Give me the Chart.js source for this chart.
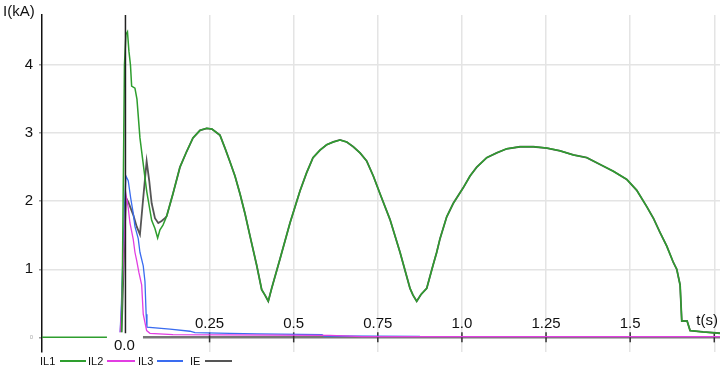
<!DOCTYPE html>
<html>
<head>
<meta charset="utf-8">
<script src="https://cdn.jsdelivr.net/npm/chart.js@4.4.1/dist/chart.umd.min.js"></script>
<style>
  html, body { margin: 0; padding: 0; background: #fff; }
  #wrap { position: relative; width: 720px; height: 372px; overflow: hidden; font-family: 'Liberation Sans', Arial, sans-serif; }
  canvas { position: absolute; left: 0; top: 0; }
  .lg { position: absolute; top: 354px; font-size: 11px; color: #111; line-height: 14px; }
  .ln { position: absolute; top: 360px; height: 1.5px; }
</style>
</head>
<body>
<div id="wrap">
  <canvas id="c" width="720" height="372"></canvas>
  <span class="lg" style="left:40px">IL1</span><span class="ln" style="left:60px;width:26px;background:#2e9e2e"></span>
  <span class="lg" style="left:88px">IL2</span><span class="ln" style="left:107px;width:28px;background:#e23ee2"></span>
  <span class="lg" style="left:138px">IL3</span><span class="ln" style="left:157px;width:26px;background:#3a6cf0"></span>
  <span class="lg" style="left:190px">IE</span><span class="ln" style="left:205px;width:27px;background:#555"></span>
</div>
<script>
// ---- data (time in s, current in kA) ----
const il1T = [-0.248, -0.0119, -0.0089, -0.0059, -0.003, 0.0015, 0.006, 0.0104, 0.0149, 0.0184, 0.0282, 0.0342, 0.0431, 0.052, 0.063, 0.0779, 0.0877, 0.0957, 0.1026, 0.1115, 0.1225, 0.1412, 0.162, 0.1819, 0.2007, 0.2215, 0.2414, 0.2571, 0.2809, 0.2958, 0.3106, 0.3255, 0.3404, 0.3552, 0.3701, 0.39, 0.4049, 0.4147, 0.4245, 0.4346, 0.4593, 0.489, 0.5187, 0.5386, 0.5574, 0.5782, 0.5981, 0.6177, 0.6376, 0.6576, 0.6771, 0.6971, 0.717, 0.7366, 0.7566, 0.7863, 0.816, 0.8457, 0.8546, 0.8656, 0.8784, 0.8954, 0.9141, 0.9251, 0.9349, 0.9548, 0.9744, 1.0042, 1.0241, 1.044, 1.0737, 1.1034, 1.1332, 1.1727, 1.2122, 1.2521, 1.2916, 1.3312, 1.371, 1.4105, 1.45, 1.4899, 1.5196, 1.5493, 1.569, 1.5889, 1.6088, 1.6284, 1.6385, 1.6484, 1.6534, 1.6692, 1.6781, 1.7167, 1.7673];
const il1V = [0, 0, 1.0, 2.5, 4.0, 4.45, 4.49, 4.2, 4.0, 3.69, 3.66, 3.5, 2.93, 2.58, 2.15, 1.72, 1.6, 1.46, 1.58, 1.65, 1.78, 2.11, 2.5, 2.73, 2.93, 3.04, 3.07, 3.06, 2.97, 2.78, 2.58, 2.37, 2.11, 1.82, 1.49, 1.06, 0.7, 0.62, 0.53, 0.72, 1.15, 1.68, 2.15, 2.42, 2.64, 2.75, 2.83, 2.87, 2.9, 2.87, 2.8, 2.71, 2.59, 2.37, 2.11, 1.73, 1.25, 0.72, 0.62, 0.53, 0.63, 0.72, 1.06, 1.25, 1.45, 1.77, 1.97, 2.2, 2.37, 2.5, 2.64, 2.71, 2.77, 2.8, 2.8, 2.78, 2.74, 2.68, 2.64, 2.54, 2.44, 2.32, 2.16, 1.92, 1.75, 1.54, 1.34, 1.1, 1.0, 0.77, 0.24, 0.24, 0.1, 0.08, 0.06];

const il2T = [-0.02, -0.0164, -0.0119, -0.0074, -0.003, 0.0015, 0.0083, 0.0134, 0.0232, 0.0282, 0.0333, 0.0401, 0.0482, 0.0529, 0.063, 0.0728, 0.1412, 0.608, 0.703, 1.767];
const il2V = [0, 0, 0.4, 1.0, 1.5, 2.1, 1.9, 1.68, 1.44, 1.25, 1.13, 0.95, 0.77, 0.34, 0.1, 0.06, 0.04, 0.03, 0.01, 0.01];

const il3T = [-0.02, -0.0164, -0.0119, -0.0074, -0.003, 0.0015, 0.0083, 0.0155, 0.0232, 0.0282, 0.038, 0.0431, 0.0529, 0.058, 0.0615, 0.0639, 0.1323, 0.1917, 0.2066, 0.3106, 0.3909, 0.5841, 0.59, 0.8754];
const il3V = [0, 0, 0.5, 1.2, 1.9, 2.37, 2.3, 2.05, 1.82, 1.63, 1.45, 1.25, 1.05, 0.82, 0.34, 0.15, 0.12, 0.09, 0.07, 0.06, 0.05, 0.04, 0.02, 0.015];

const ieEarlyT = [-0.02, -0.0119, -0.0045, 0.0015, 0.0083, 0.0232, 0.0333, 0.0431, 0.052, 0.063, 0.0707, 0.0779, 0.0877, 0.0975, 0.1076, 0.1174];
const ieEarlyV = [0, 0, 1.2, 2.05, 1.99, 1.8, 1.63, 1.51, 2.0, 2.59, 2.3, 1.97, 1.75, 1.68, 1.71, 1.75];

const xTickLabels = ['0.25', '0.5', '0.75', '1.0', '1.25', '1.5'];
const xTickValues = [0.25, 0.5, 0.75, 1.0, 1.25, 1.5];
const xTickMarks = [0.25, 0.5, 0.75, 1.0, 1.25, 1.5, 1.75];

function pts(t, v) { return t.map((x, i) => ({ x: x, y: v[i] })); }
// IE coincides with IL1 once the other phases have cleared
const ieT = ieEarlyT.concat(il1T.filter(t => t >= 0.1225));
const ieV = ieEarlyV.concat(il1V.filter((v, i) => il1T[i] >= 0.1225));

const FONT = "'Liberation Sans', Arial, sans-serif";
const isZero = c => !!(c && c.tick && c.tick.value === 0);

const overlay = {
  id: 'overlay',
  beforeDatasetsDraw(chart) {
    const { ctx, chartArea, scales } = chart;
    const x = scales.x, y = scales.y;
    const y0 = y.getPixelForValue(0);
    const x0 = x.getPixelForValue(0);
    ctx.save();
    ctx.strokeStyle = '#767676';
    ctx.lineWidth = 2.5;
    ctx.beginPath();
    ctx.moveTo(x0 + 17, y0);
    ctx.lineTo(chartArea.right, y0);
    ctx.stroke();
    ctx.strokeStyle = '#333';
    ctx.lineWidth = 1.5;
    xTickMarks.forEach(v => {
      const px = x.getPixelForValue(v);
      ctx.beginPath();
      ctx.moveTo(px, y0 - 5);
      ctx.lineTo(px, y0 + 5);
      ctx.stroke();
    });
    ctx.restore();
  },
  afterDatasetsDraw(chart) {
    const { ctx, chartArea, scales } = chart;
    const x = scales.x, y = scales.y;
    const y0 = y.getPixelForValue(0);
    const x0 = x.getPixelForValue(0);
    ctx.save();
    ctx.fillStyle = '#fff';
    ctx.fillRect(x0 - 18.5, y0 - 5, 36, 20);
    ctx.strokeStyle = '#222';
    ctx.lineWidth = 1.5;
    ctx.beginPath();
    ctx.moveTo(x0, chartArea.top);
    ctx.lineTo(x0, y0 - 4);
    ctx.stroke();
    ctx.fillStyle = '#111';
    ctx.font = '15px ' + FONT;
    ctx.textAlign = 'center';
    ctx.textBaseline = 'alphabetic';
    xTickValues.forEach((v, i) => {
      ctx.fillText(xTickLabels[i], x.getPixelForValue(v), y0 - 9);
    });
    ctx.fillText('0.0', x0 - 1, y0 + 13);
    ctx.textAlign = 'right';
    ctx.fillText('t(s)', 718, y0 - 12);
    ctx.textAlign = 'left';
    ctx.fillText('I(kA)', 3, 16);
    ctx.restore();
  }
};

new Chart(document.getElementById('c'), {
  type: 'scatter',
  data: {
    datasets: [
      { label: 'IL1', data: pts(il1T, il1V), borderColor: '#2e9e2e', borderWidth: 1.5 },
      { label: 'IL2', data: pts(il2T, il2V), borderColor: '#e23ee2', borderWidth: 1.3 },
      { label: 'IL3', data: pts(il3T, il3V), borderColor: '#3a6cf0', borderWidth: 1.3 },
      { label: 'IE', data: pts(ieT, ieV), borderColor: '#555555', borderWidth: 1.8 }
    ]
  },
  options: {
    responsive: false,
    animation: false,
    devicePixelRatio: 1,
    showLine: true,
    elements: { point: { radius: 0, hoverRadius: 0 }, line: { tension: 0, fill: false } },
    layout: { padding: { top: 7, bottom: 20, left: 0, right: 0 } },
    plugins: { legend: { display: false }, tooltip: { enabled: false } },
    scales: {
      x: {
        type: 'linear',
        min: -0.248,
        max: 1.767,
        afterFit: s => { s.height = 0; },
        border: { display: false },
        grid: {
          color: c => isZero(c) ? 'rgba(0,0,0,0)' : '#e4e4e4',
          lineWidth: 1.5,
          drawTicks: false
        },
        ticks: { display: false, stepSize: 0.25, includeBounds: false }
      },
      y: {
        type: 'linear',
        min: -0.215,
        max: 4.735,
        afterFit: s => { s.width = 42; },
        border: { display: true, color: '#111', width: 1.5 },
        grid: {
          color: c => isZero(c) ? 'rgba(0,0,0,0)' : '#e4e4e4',
          lineWidth: 1.5,
          tickLength: 3,
          tickColor: '#999'
        },
        ticks: {
          stepSize: 1,
          includeBounds: false,
          padding: 6,
          color: c => isZero(c) ? '#aaa' : '#111',
          font: c => isZero(c) ? { family: FONT, size: 6 } : { family: FONT, size: 15 },
          callback: v => String(v)
        }
      }
    }
  },
  plugins: [overlay]
});
</script>
</body>
</html>
